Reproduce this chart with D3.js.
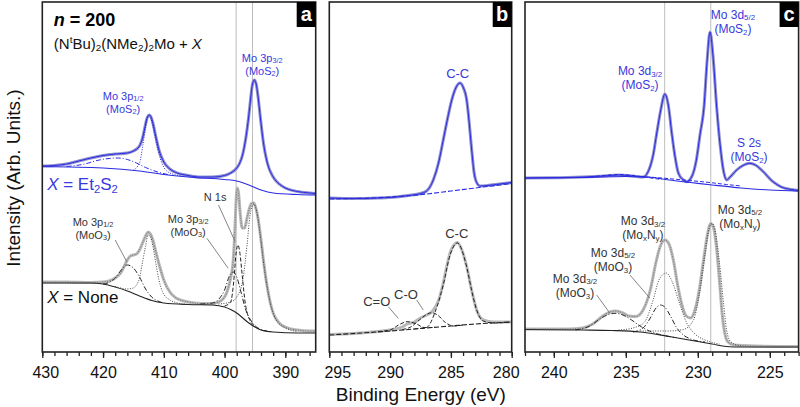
<!DOCTYPE html>
<html><head><meta charset="utf-8">
<script src="https://cdn.jsdelivr.net/npm/d3@7"></script>
<style>body{margin:0;background:#fff} text{font-family:"Liberation Sans",Arial,sans-serif}</style>
</head><body><svg id="chart" width="800" height="407"></svg>
<script>
// ---------- DATA (binding energy eV, intensity arb. units) ----------
// Panel a: Mo 3p / N 1s region
const aTopRaw = [[430,186],[428,186.5],[426,188],[424,191],[422,194],[420,196.5],[418,198],[416,199],[415,201],[414,206],[413.5,214],[413,228],[412.7,235],[412.4,237],[412.1,235],[411.8,229],[411.3,215],[410.8,202],[410,190],[409,183],[408,179.5],[406,176.5],[404,175],[402,175],[400,176.5],[399,179],[398,184],[397.5,189],[397,198],[396.5,214],[396,237],[395.7,254],[395.4,268],[395.1,272],[394.8,268],[394.5,256],[394.1,234],[393.6,209],[393,190],[392,175],[391,168],[390,164],[388,160.5],[386,159],[385,158.5]];
const aTopBg = [[430,185.5],[420,184],[414,181],[410,177.5],[405,174.5],[400,172.5],[398,171],[396,167],[394,162],[392,159],[388,157.5],[385,157]];
const aTopBroad = [[426,185.5],[423,188],[421,191.5],[419,193.5],[417.5,194],[416,192.5],[414.5,189],[413,184.5],[411,180],[409,177]];
const aTopMo3p12 = [[415,182],[414,189],[413.5,205],[413,225],[412.5,236],[412,231],[411.5,217],[411,203],[410.2,187],[409,179],[407,176]];
const aBotRaw = [[430,70],[426,70],[422,69.5],[420,70],[419,71],[418,74],[417,80],[416.5,86],[416,92],[415.5,96],[415,97],[414.5,98],[414,102],[413.5,109],[413,116],[412.6,120],[412.2,118],[411.8,112],[411.3,100],[410.7,86],[410,72],[409,60],[408,54],[406,50],[404,48.5],[402,48.5],[401,50],[400,55],[399.5,62],[399,74],[398.6,90],[398.3,122],[398.1,152],[397.9,164],[397.7,159],[397.4,137],[397.1,124],[396.7,124],[396.3,134],[395.9,144],[395.5,149],[395.2,149],[394.9,145],[394.5,134],[394,112],[393.5,87],[393,66],[392.5,50],[392,39],[391,29],[390,25],[388,22],[386,21],[385,21]];
const aBotBg = [[430,69],[422,69],[420,68],[418,65],[416,61],[414,56],[412,51.5],[410,49],[406,47.5],[402,47],[400,45],[399,42.5],[398,39],[397,34],[396,29],[395,25],[394,22],[392,20],[388,19],[385,19]];
const aBotMoO3p12 = [[420,68],[419,69.5],[418,74],[417,82],[416,87],[415,84],[414,75],[413,63],[412,55],[411,51],[410,49]];
const aBotMoN3p12 = [[418,65.5],[416,63],[415,64],[414.5,67],[414,74],[413.5,90],[413,106],[412.6,117],[412.2,115],[411.8,106],[411.3,88],[410.8,72],[410.2,60],[409,52],[408,49.5],[406,47.5]];
const aBotMoO3p32 = [[404,48],[402,49],[401,52.5],[400,62],[399.2,76],[398.6,80],[398,75],[397.3,60],[396.5,42],[395.5,30],[394.5,24],[393,21]];
const aBotN1s = [[400,46],[399,50],[398.5,70],[398.1,99],[397.8,107],[397.5,100],[397.1,77],[396.6,49],[396,34],[395,26]];
const aBotMoN3p32 = [[401,48],[399,50],[398,55],[397,72],[396.3,107],[395.8,137],[395.2,148],[394.7,140],[394.2,120],[393.6,90],[393,65],[392.4,47],[391.5,32],[390,24],[388,20.5]];
// Panel b: C 1s region
const bTopRaw = [[295,154],[293,153.5],[291,154],[289.5,155],[288.5,156.5],[287.5,158.5],[287,161],[286.45,172],[286,190],[285.63,212],[285.3,232],[284.93,252],[284.6,264],[284.25,269],[284,265],[283.7,252],[283.5,230],[283.29,202],[283.1,180],[282.9,170],[282.6,166],[282,166.5],[281,168],[280,169.5]];
const bTopBg = [[295,153],[290,155],[287,158],[285,161],[283,164],[280,168.5]];
const bBotRaw = [[295,17.5],[293,18.5],[291,20.5],[290,22],[289,25],[288.6,28],[288,30],[287.5,34],[287,37],[286.5,41],[286,52],[285.63,69],[285.3,88],[285.07,99],[284.75,107],[284.47,109.5],[284.1,102],[283.7,85.5],[283.3,62],[282.88,42],[282.34,32],[281.5,30],[280,30]];
const bBotBg = [[295,17],[290,21],[287,24],[285,26],[283,28],[280,30]];
const bBotCC = [[288,23.2],[287,24.5],[286.3,40],[285.63,67],[285.07,97],[284.47,109],[283.7,85],[283.3,62],[282.88,42],[282.34,31],[281.5,29],[280,30]];
const bBotCO = [[289,22.5],[288.3,25],[287.6,32],[287,37.5],[286.6,39.3],[286.1,37],[285.5,30],[284.8,26],[284,27]];
const bBotCdO = [[291,20.5],[290,22],[289.3,27],[288.6,30.3],[287.9,28.5],[287.2,24.5],[286.5,24.5]];
// Panel c: Mo 3d / S 2s region
const cTopRaw = [[242,174],[240,174.2],[238,175],[236.5,176],[235.5,177],[234.5,176],[233.8,175],[233.32,185],[233.1,197],[232.85,219],[232.6,240],[232.28,258],[232.05,247],[231.81,219],[231.6,197],[231.35,179],[231,172],[230.77,170.3],[230.4,176],[230.1,192],[229.85,217],[229.57,245],[229.35,292],[229.15,320],[228.95,297],[228.69,245],[228.45,207],[228.2,180],[228,172],[227.76,175],[227.3,182],[226.8,187],[226.4,188.7],[226,187],[225.5,181],[224.78,170.3],[224.2,165],[223.5,162.5],[223,161.5]];
const cTopBg = [[242,174],[238,174.5],[235,175.5],[233.5,175],[232,172],[230.5,169.5],[229,167],[227,164],[225,162],[223,161]];
const cTopMoO3 = [[237.5,175],[236.5,176.5],[235.5,177.5],[234.5,176.5],[233.5,174.5],[232.5,172.5]];
const cTopTail = [[234,175.5],[232.5,174],[231,172],[229.5,170],[228,167.5],[227,166]];
const cBotRaw = [[242,23],[239,23],[238,24],[237.3,28],[236.6,36],[236.1,40],[235.7,41],[235.2,39],[234.8,36],[234.3,35.5],[233.8,42],[233.3,62],[232.9,90],[232.6,106],[232.28,112],[232,108],[231.7,92],[231.4,67],[231.1,47],[230.8,36],[230.5,34],[230.2,42],[229.9,62],[229.6,92],[229.35,116],[229.1,128.5],[228.9,124],[228.7,104],[228.5,72],[228.3,37],[228.1,17],[227.9,10],[227.5,7],[226,6],[223,5.5]];
const cBotBg = [[242,22.5],[238,22],[236,21.5],[234,20],[233,18],[232,15.5],[231,13],[230,10.5],[229,8],[228,5.5],[227,5],[223,5]];
const cBotMoO3d32 = [[238.5,22],[237.5,26],[236.8,33],[236.2,37.5],[235.75,38.7],[235.2,37],[234.6,32],[233.9,25],[233.2,20],[232.5,17],[231.5,14.5]];
const cBotMoO3d52 = [[234.5,20],[233.8,24],[233.3,34],[232.9,44],[232.6,47],[232.3,45],[231.9,36],[231.5,25],[231,17],[230.5,13],[229.5,10]];
const cBotMoNd32 = [[235.5,22],[234.5,24],[233.7,30],[233.1,52],[232.7,72],[232.2,79],[231.8,71],[231.3,50],[230.8,30],[230.2,18],[229.5,12],[228.5,8]];
const cBotMoNd52 = [[234,21],[232,21],[231,22.5],[230.3,32],[229.9,57],[229.5,97],[229.2,124],[229,128.5],[228.8,122],[228.5,90],[228.2,47],[228,22],[227.7,10],[227,6]];
// axis ticks
const aMajor = [430,420,410,400,390], bMajor = [295,290,285,280], cMajor = [240,235,230,225];
const aGuides = [398.1,395.4], cGuides = [232.3,229.1];
// annotations: [E, I, lines, color]
const aLabels = [
  [416.7,252.5,["Mo 3p_{1/2}","(MoS_{2})"],"blue"],
  [393.8,290.5,["Mo 3p_{3/2}","(MoS_{2})"],"blue"],
  [421.65,126.5,["Mo 3p_{1/2}","(MoO_{3})"],"dark"],
  [406.0,129.5,["Mo 3p_{3/2}","(MoO_{3})"],"dark"],
  [401.55,151,["N 1s"],"dark"]];
const aLeaders = [[418.0,112,416.1,90.3],[402.9,113.7,399.4,83.7],[401.0,147,398.25,110.3]];
const bLabels = [[284.44,274,["C-C"],"blue"],[284.52,114,["C-C"],"dark"],[288.69,53,["C-O"],"dark"],[291.1,46,["C=O"],"dark"]];
const bLeaders = [[287.81,52,287.27,42],[290.15,45.3,289.33,33.7]];
const cLabels = [
  [227.56,333.5,["Mo 3d_{5/2}","(MoS_{2})"],"blue"],
  [234.01,277,["Mo 3d_{3/2}","(MoS_{2})"],"blue"],
  [226.44,205.5,["S 2s","(MoS_{2})"],"blue"],
  [233.81,127,["Mo 3d_{3/2}","(Mo_{x}N_{y})"],"dark"],
  [227.07,138.5,["Mo 3d_{5/2}","(Mo_{x}N_{y})"],"dark"],
  [235.89,95.5,["Mo 3d_{5/2}","(MoO_{3})"],"dark"],
  [238.53,69.5,["Mo 3d_{3/2}","(MoO_{3})"],"dark"]];
const cLeaders = [[234.71,77,233.32,53.7],[237.02,57,236.10,38.7]];

// ---------- LAYOUT ----------
const svg = d3.select("#chart");
const yTop = 2, yBot = 352;
const y = d3.scaleLinear().domain([0,350]).range([yBot, yTop]);
const BLUE = "#2b2be3", BLUE_TXT = "#3838dc", DARK = "#333";

// rich text: lines array, _{sub} ^{sup} ~{italic}; all lines in one <text>
function rich(sel, lines, fs, lh, x) {
  let shift = 0;
  (Array.isArray(lines) ? lines : [lines]).forEach((str, k) => {
    const parts = str.split(/(_\{[^}]*\}|\^\{[^}]*\}|~\{[^}]*\})/).filter(s => s.length);
    parts.forEach((p, j) => {
      let t = p, target = 0, small = false, italic = false;
      if (p.startsWith("_{")) { t = p.slice(2,-1); target = 0.15; small = true; }
      else if (p.startsWith("^{")) { t = p.slice(2,-1); target = -0.4; small = true; }
      else if (p.startsWith("~{")) { t = p.slice(2,-1); italic = true; }
      const ts = sel.append("tspan").text(t);
      let dy = (target - shift) * fs;
      if (k > 0 && j === 0) { dy += lh; ts.attr("x", x); }
      if (dy !== 0) ts.attr("dy", dy.toFixed(2));
      shift = target;
      if (small) ts.attr("font-size", (fs*0.66).toFixed(1));
      if (italic) ts.attr("font-style", "italic");
    });
  });
}

const panels = [
  {x0:42.3, x1:315.7, domain:[430,385], major:aMajor, minor:d3.range(386,431,2), letter:"a", guides:aGuides, labels:aLabels, leaders:aLeaders, fs:11, lh:13.3, shift:{430:3}},
  {x0:329.3, x1:511.7, domain:[295,280], major:bMajor, minor:d3.range(280,296,1), letter:"b", guides:[], labels:bLabels, leaders:bLeaders, fs:13, lh:14, shift:{295:8,280:-6}},
  {x0:525, x1:798.6, domain:[242,223], major:cMajor, minor:d3.range(223,243,1), letter:"c", guides:cGuides, labels:cLabels, leaders:cLeaders, fs:12, lh:14.4, shift:{}}
];

panels.forEach((p, i) => {
  p.x = d3.scaleLinear().domain(p.domain).range([p.x0, p.x1]);
  const g = svg.append("g");
  const cid = "clip" + i;
  svg.append("clipPath").attr("id", cid).append("rect").attr("x", p.x0).attr("y", yTop).attr("width", p.x1 - p.x0).attr("height", yBot - yTop);
  p.g = g; p.plot = g.append("g").attr("clip-path", `url(#${cid})`);
  p.plot.selectAll("line.guide").data(p.guides).join("line")
    .attr("x1", d => p.x(d)).attr("x2", d => p.x(d)).attr("y1", yTop).attr("y2", yBot)
    .attr("stroke", "#bdbdbd").attr("stroke-width", 1);
  const ax = g.append("g").attr("transform", `translate(0,${yBot})`);
  ax.call(d3.axisBottom(p.x).tickValues(p.minor).tickSize(4).tickFormat(""))
    .call(s => s.select(".domain").remove());
  const ax2 = g.append("g").attr("transform", `translate(0,${yBot})`);
  ax2.call(d3.axisBottom(p.x).tickValues(p.major).tickSize(6).tickPadding(9))
    .call(s => s.select(".domain").remove());
  ax2.selectAll("text").attr("font-size", 16).attr("fill", "#111").attr("font-family", '"Liberation Sans",Arial,sans-serif')
    .attr("dx", d => p.shift[d] || 0);
  g.selectAll(".tick line").attr("stroke", "#222").attr("stroke-width", 1.3);
});

function draw(p, data, stroke, width, dash) {
  const line = d3.line().x(d => p.x(d[0])).y(d => y(d[1])).curve(d3.curveMonotoneX);
  p.plot.append("path").datum(data).attr("d", line).attr("fill", "none")
    .attr("stroke", stroke).attr("stroke-width", width)
    .attr("stroke-dasharray", dash || null).attr("stroke-linejoin", "round");
}
const [pa, pb, pc] = panels;
draw(pa, aTopRaw, "#8f8fcf", 3);
draw(pa, aTopBg, BLUE, 1.1);
draw(pa, aTopBroad, BLUE, 1, "5,2,1,2");
draw(pa, aTopMo3p12, BLUE, 1, "1,1.5");
draw(pa, aTopRaw, BLUE, 1);
draw(pa, aBotRaw, "#b9b9b9", 3);
draw(pa, aBotBg, "#222", 1.1);
draw(pa, aBotMoO3p12, "#222", 1, "5,2,1,2");
draw(pa, aBotMoN3p12, "#444", 1, "1,1.5");
draw(pa, aBotMoO3p32, "#222", 1, "5,2,1,2");
draw(pa, aBotN1s, "#222", 1, "4,2");
draw(pa, aBotMoN3p32, "#444", 1, "1,1.5");
draw(pa, aBotRaw, "#666", 0.8, "1,1.5");
draw(pb, bTopRaw, "#8f8fcf", 3);
draw(pb, bTopBg, BLUE, 1.1, "5,2");
draw(pb, bTopRaw, BLUE, 1);
draw(pb, bBotRaw, "#b9b9b9", 3);
draw(pb, bBotBg, "#222", 1.1, "5,2");
draw(pb, bBotCC, "#222", 1, "4,2");
draw(pb, bBotCO, "#222", 1, "4,2");
draw(pb, bBotCdO, "#222", 1, "4,2");
draw(pc, cTopRaw, "#8f8fcf", 3);
draw(pc, cTopBg, BLUE, 1.1);
draw(pc, cTopMoO3, BLUE, 1, "4,2");
draw(pc, cTopTail, BLUE, 1, "4,2");
draw(pc, cTopRaw, BLUE, 1);
draw(pc, cBotRaw, "#b9b9b9", 3);
draw(pc, cBotBg, "#222", 1.1);
draw(pc, cBotMoO3d32, "#222", 1, "5,2,1,2");
draw(pc, cBotMoO3d52, "#222", 1, "5,2,1,2");
draw(pc, cBotMoNd32, "#444", 1, "1,1.5");
draw(pc, cBotMoNd52, "#444", 1, "1,1.5");
draw(pc, cBotRaw, "#666", 0.8, "1,1.5");

panels.forEach(p => {
  p.leaders.forEach(l => {
    p.g.append("line").attr("x1", p.x(l[0])).attr("y1", y(l[1])).attr("x2", p.x(l[2])).attr("y2", y(l[3]))
      .attr("stroke", "#777").attr("stroke-width", 0.9);
  });
  p.labels.forEach(l => {
    const fs = p.fs, xx = p.x(l[0]);
    const t = p.g.append("text").attr("x", xx).attr("y", y(l[1]))
      .attr("text-anchor", "middle").attr("font-size", fs)
      .attr("fill", l[3] === "blue" ? BLUE_TXT : DARK);
    rich(t, l[2], fs, p.lh, xx);
  });
  p.g.append("rect").attr("x", p.x0).attr("y", yTop).attr("width", p.x1 - p.x0).attr("height", yBot - yTop)
    .attr("fill", "none").attr("stroke", "#222").attr("stroke-width", 1.6);
  p.g.append("rect").attr("x", p.x1 - 19).attr("y", yTop).attr("width", 19).attr("height", 25).attr("fill", "#000");
  p.g.append("text").attr("x", p.x1 - 9.5).attr("y", yTop + 19).attr("text-anchor", "middle")
    .attr("font-size", 20).attr("font-weight", "bold").attr("fill", "#fff").text(p.letter);
});

const h1 = pa.g.append("text").attr("x", pa.x(428.1)).attr("y", y(326)).attr("font-size", 18).attr("font-weight", "bold").attr("fill", "#000");
rich(h1, "~{n} = 200", 18, 0, 0);
const h2 = pa.g.append("text").attr("x", pa.x(428.1)).attr("y", y(303)).attr("font-size", 15).attr("fill", "#111");
rich(h2, "(N^{t}Bu)_{2}(NMe_{2})_{2}Mo + ~{X}", 15, 0, 0);
const h3 = pa.g.append("text").attr("x", pa.x(429.2)).attr("y", y(162)).attr("font-size", 17).attr("fill", BLUE_TXT);
rich(h3, "~{X} = Et_{2}S_{2}", 17, 0, 0);
const h4 = pa.g.append("text").attr("x", pa.x(429.2)).attr("y", y(49)).attr("font-size", 17).attr("fill", "#111");
rich(h4, "~{X} = None", 17, 0, 0);

svg.append("text").attr("x", 420.8).attr("y", 401).attr("text-anchor", "middle").attr("font-size", 19).attr("fill", "#111").text("Binding Energy (eV)");
svg.append("text").attr("transform", "translate(20,178) rotate(-90)").attr("text-anchor", "middle").attr("font-size", 19).attr("fill", "#111").text("Intensity (Arb. Units.)");
</script></body></html>
